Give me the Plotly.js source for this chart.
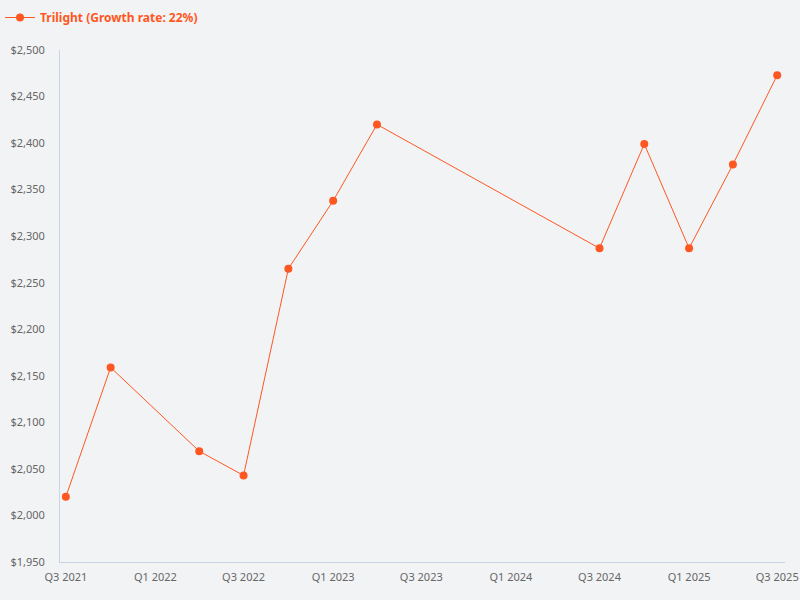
<!DOCTYPE html>
<html>
<head>
<meta charset="utf-8">
<script src="https://cdn.plot.ly/plotly-3.0.1.min.js"></script>
<style>html,body{margin:0;padding:0;background:#f2f3f5;}#chart{width:800px;height:600px;}</style>
</head>
<body>
<div id="chart"></div>
<script>
const quarters = ['2021-07-01','2021-10-01','2022-04-01','2022-07-01','2022-10-01','2023-01-01','2023-04-01','2024-07-01','2024-10-01','2025-01-01','2025-04-01','2025-07-01'];
const values = [2020, 2159, 2069, 2043, 2265, 2338, 2420, 2287, 2399, 2287, 2377, 2473];
const tickDates = ['2021-07-01','2022-01-01','2022-07-01','2023-01-01','2023-07-01','2024-01-01','2024-07-01','2025-01-01','2025-07-01'];
const tickLabels = ['Q3 2021','Q1 2022','Q3 2022','Q1 2023','Q3 2023','Q1 2024','Q3 2024','Q1 2025','Q3 2025'];
const seriesName = 'Trilight (Growth rate: 22%)';
const color = '#ff5722';

Plotly.newPlot('chart', [{
  x: quarters, y: values, type: 'scatter', mode: 'lines+markers', name: seriesName,
  line: {color: color, width: 1}, marker: {color: color, size: 8}
}], {
  width: 800, height: 600,
  paper_bgcolor: '#f2f3f5', plot_bgcolor: '#f2f3f5',
  font: {family: 'Noto Sans, Open Sans, sans-serif', color: '#666', size: 11},
  margin: {l: 60, r: 15, t: 50, b: 38},
  showlegend: true,
  legend: {orientation: 'h', xref: 'container', yref: 'container', x: 0, y: 0.995, xanchor: 'left', yanchor: 'top',
    itemwidth: 30,
    font: {color: color, size: 12, weight: 'bold', family: 'Noto Sans, Open Sans, sans-serif'}, bgcolor: 'rgba(0,0,0,0)'},
  xaxis: {type: 'date', range: ['2021-06-19', '2025-07-17'], tickvals: tickDates, ticktext: tickLabels,
    showgrid: false, zeroline: false, showline: true, linecolor: '#c8d4e3', linewidth: 1, ticks: '',
    ticklabelstandoff: 5, tickfont: {size: 11, color: '#666'}},
  yaxis: {range: [1950, 2500], dtick: 50, tick0: 1950, tickformat: '$,', showgrid: false, zeroline: false,
    showline: true, linecolor: '#c8d4e3', linewidth: 1, ticks: '', ticklabelstandoff: 12, tickfont: {size: 11, color: '#666'}}
}, {displayModeBar: false});
</script>
</body>
</html>
